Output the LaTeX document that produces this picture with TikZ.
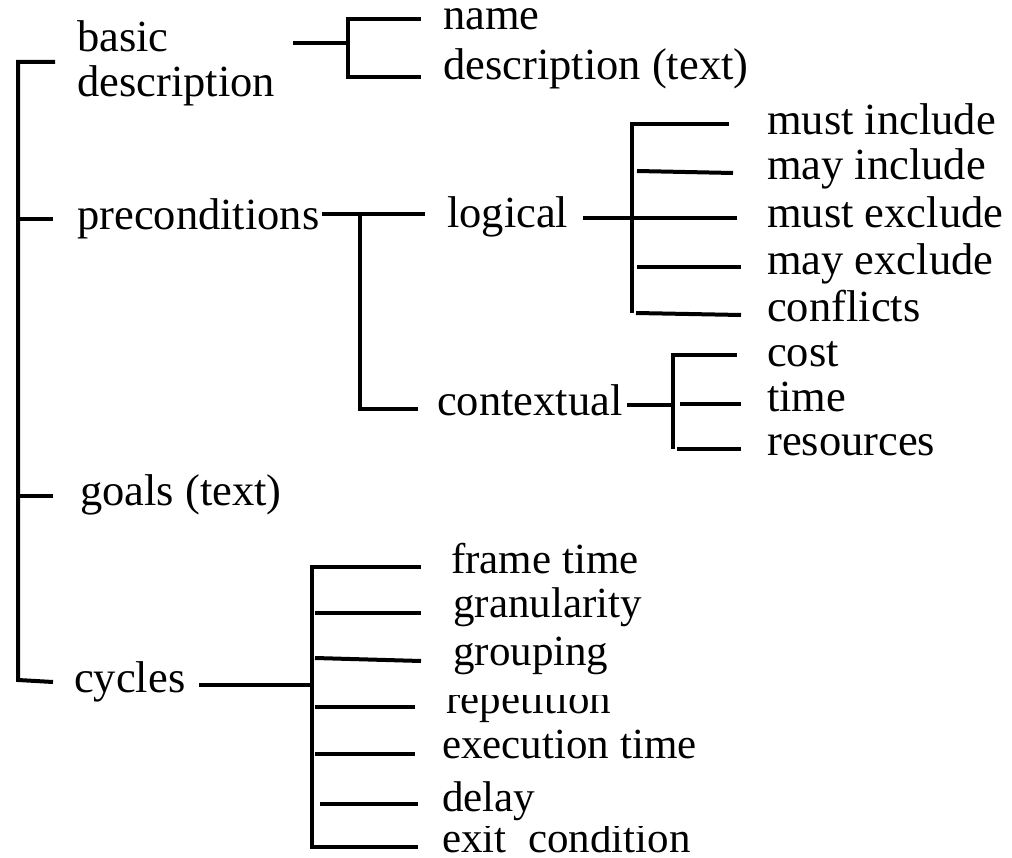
\documentclass[tikz,border=0pt]{standalone}
\usepackage{fontspec}
\setmainfont{Liberation Serif}
\begin{document}
\begin{tikzpicture}[x=1pt,y=-1pt,
  ln/.style={line width=4pt, line join=miter},
  lbl/.style={anchor=base west, inner sep=0pt, font=\fontsize{44.5}{45}\selectfont},
  lbs/.style={anchor=base west, inner sep=0pt, font=\fontsize{43}{45}\selectfont}]
\useasboundingbox[fill=white] (0,0) rectangle (1012,858);

% ---------- text nodes ----------
\node[lbl] (basic) at (77,52) {basic};
\node[lbl] (bdesc) at (77,97) {description};
\node[lbl] (name) at (443,30) {name};
\node[lbl] (desct) at (443,80) {description (text)};
\node[lbl] (pre) at (77,230) {preconditions};
\node[lbl] (logical) at (447,228) {logical};
\node[lbl] (contextual) at (437,415) {contextual};
\node[lbl] (mi) at (767,135) {must include};
\node[lbl] (yi) at (767,180) {may include};
\node[lbl] (me) at (767,228) {must exclude};
\node[lbl] (ye) at (767,275) {may exclude};
\node[lbl] (conf) at (767,322) {conflicts};
\node[lbl] (cost) at (767,367) {cost};
\node[lbl] (time) at (767,412) {time};
\node[lbl] (res) at (767,455) {resources};
\node[lbl] (goals) at (80,505) {goals (text)};
\node[lbl] (cycles) at (74,692) {cycles};
\node[lbs] (frame) at (451,573) {frame time};
\begin{scope}
  \clip (430,560) rectangle (720,628);
  \node[lbs] (gran) at (453,617) {granularity};
\end{scope}
\node[lbs] (group) at (453,665) {grouping};
\begin{scope}
  \clip (430,695) rectangle (720,735);
  \node[lbs] (rep) at (446,713) {repetition};
\end{scope}
\node[lbs] (exec) at (442,758) {execution time};
\node[lbs] (delay) at (442,811) {delay};
\begin{scope}
  \clip (430,826) rectangle (720,858);
  \node[lbs] (exit) at (442,852) {exit~~condition};
\end{scope}

% ---------- coordinates ----------
\coordinate (R0) at (55,62);  \coordinate (R1) at (18,62);
\coordinate (R2) at (18,680); \coordinate (R3) at (53,682);
\coordinate (Rp) at (18,219); \coordinate (Rpe) at (53,219);
\coordinate (Rg) at (18,496); \coordinate (Rge) at (53,496);

\coordinate (B0) at (293,43); \coordinate (B1) at (348,43);
\coordinate (Bn) at (421,19); \coordinate (Bt) at (348,19);
\coordinate (Bb) at (348,77); \coordinate (Bd) at (421,77);

\coordinate (P0) at (322,214); \coordinate (P1) at (425,214);
\coordinate (Pv) at (360,214); \coordinate (Pb) at (360,409);
\coordinate (Pc) at (418,409);

\coordinate (L0) at (583,218); \coordinate (L1) at (737,218);
\coordinate (Lt) at (632,124); \coordinate (Lb) at (632,313);
\coordinate (L1e) at (729,124);
\coordinate (L2s) at (637,171); \coordinate (L2e) at (733,173);
\coordinate (L4s) at (637,267); \coordinate (L4e) at (741,267);
\coordinate (L5s) at (636,313); \coordinate (L5e) at (741,315);

\coordinate (C0) at (627,405); \coordinate (Cv) at (673,405);
\coordinate (Ct) at (673,355); \coordinate (Cb) at (673,449);
\coordinate (C1e) at (737,355);
\coordinate (C2s) at (680,404); \coordinate (C2e) at (741,404);
\coordinate (C3s) at (677,449); \coordinate (C3e) at (741,449);

\coordinate (Y0) at (199,685); \coordinate (Yv) at (312,685);
\coordinate (Yt) at (312,567); \coordinate (Yb) at (312,847);
\coordinate (Y1e) at (421,567);
\coordinate (Y2s) at (315,613); \coordinate (Y2e) at (421,613);
\coordinate (Y3s) at (315,658); \coordinate (Y3e) at (421,661);
\coordinate (Y4s) at (315,707); \coordinate (Y4e) at (415,707);
\coordinate (Y5s) at (315,754); \coordinate (Y5e) at (415,754);
\coordinate (Y6s) at (320,804); \coordinate (Y6e) at (418,804);
\coordinate (Y7e) at (418,847);

% ---------- connectors ----------
\draw[ln] (R0) -- (R1) -- (R2) -- (R3);
\draw[ln] (Rp) -- (Rpe);
\draw[ln] (Rg) -- (Rge);

\draw[ln] (B0) -- (B1);
\draw[ln] (Bn) -- (Bt) -- (Bb) -- (Bd);

\draw[ln] (P0) -- (P1);
\draw[ln] (Pv) -- (Pb) -- (Pc);

\draw[ln] (L0) -- (L1);
\draw[ln] (L1e) -- (Lt) -- (Lb);
\draw[ln] (L2s) -- (L2e);
\draw[ln] (L4s) -- (L4e);
\draw[ln] (L5s) -- (L5e);

\draw[ln] (C0) -- (Cv);
\draw[ln] (C1e) -- (Ct) -- (Cb);
\draw[ln] (C2s) -- (C2e);
\draw[ln] (C3s) -- (C3e);

\draw[ln] (Y0) -- (Yv);
\draw[ln] (Y1e) -- (Yt) -- (Yb) -- (Y7e);
\draw[ln] (Y2s) -- (Y2e);
\draw[ln] (Y3s) -- (Y3e);
\draw[ln] (Y4s) -- (Y4e);
\draw[ln] (Y5s) -- (Y5e);
\draw[ln] (Y6s) -- (Y6e);
\end{tikzpicture}
\end{document}
